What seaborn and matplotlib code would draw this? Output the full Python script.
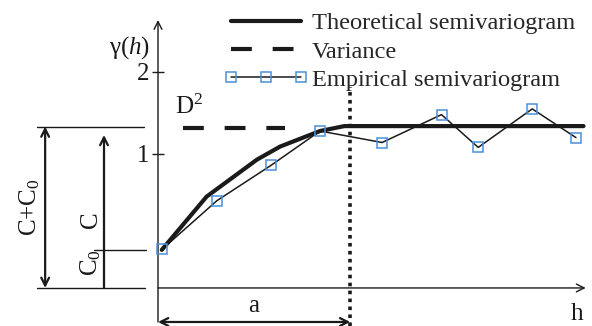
import matplotlib
matplotlib.use("Agg")
import matplotlib.pyplot as plt
import pandas as pd
import seaborn as sns

# Empirical semivariogram: lag h and estimated gamma(h)
lag_emp = [0.08, 1.09, 2.09, 3.00, 4.15, 5.25, 5.93, 6.93, 7.74]
gamma_emp = [-0.16, 0.43, 0.86, 1.28, 1.14, 1.48, 1.08, 1.55, 1.20]

# Fitted (theoretical) model, given by the vertices of its curve
lag_model = [0.07, 0.90, 1.83, 2.26, 3.00, 3.45, 7.88]
gamma_model = [-0.17, 0.48, 0.93, 1.09, 1.28, 1.34, 1.34]

# Structural parameters
nugget = -0.17      # C0 level
sill = 1.335        # C + C0
variance = 1.315    # D^2
range_a = 3.56      # a
base = -0.634       # level of the h axis
y_ticks = [1, 2]

legend_labels = ["Theoretical semivariogram", "Variance", "Empirical semivariogram"]

sns.set_style("white")
plt.rcParams["font.family"] = ["Liberation Serif", "DejaVu Serif"]
plt.rcParams["mathtext.fontset"] = "custom"
plt.rcParams["mathtext.rm"] = "Liberation Serif"
plt.rcParams["mathtext.it"] = "Liberation Serif:italic"

FS = 18
INK = "#1a1a1a"
BLUE = "#4a8fd8"

fig = plt.figure(figsize=(5.92, 3.26), dpi=100)
ax = fig.add_axes([0, 0, 1, 1])

emp = pd.DataFrame({"h": lag_emp, "gamma": gamma_emp})
model = pd.DataFrame({"h": lag_model, "gamma": gamma_model})

# Variance (D^2)
ax.plot([0.46, 2.35], [variance, variance], color=INK, lw=3.0,
        dashes=(5, 5), label=legend_labels[1], zorder=3)

# Empirical and theoretical semivariograms
sns.lineplot(data=emp, x="h", y="gamma", ax=ax, color=INK, lw=1.1,
             marker="s", markersize=7, markerfacecolor="none",
             markeredgecolor=BLUE, markeredgewidth=1.1,
             label=legend_labels[2], zorder=4, sort=False)
sns.lineplot(data=model, x="h", y="gamma", ax=ax, color=INK, lw=3.0,
             label=legend_labels[0], zorder=3, sort=False)

ax.set_xlim(-2.926, 8.037)
ax.set_ylim(-1.098, 2.878)
ax.set_xlabel("")
ax.set_ylabel("")
for s in ["top", "right", "bottom", "left"]:
    ax.spines[s].set_visible(False)
ax.spines["left"].set_position(("data", 0))
ax.set_xticks([])
ax.set_yticks(y_ticks)
ax.set_yticklabels([str(t) for t in y_ticks], fontsize=FS, color=INK)
ax.tick_params(axis="y", left=True, direction="inout", length=9,
               width=1.0, pad=2, colors=INK)
ax.set_facecolor("white")

# Axes with arrow heads
arrow_kw = dict(arrowstyle="->", lw=1.0, color=INK, shrinkA=0, shrinkB=0, mutation_scale=14)
ax.annotate("", xy=(0, 2.634), xytext=(0, -1.049), arrowprops=arrow_kw)
ax.annotate("", xy=(7.92, base), xytext=(0, base), arrowprops=arrow_kw)

# Range a
ax.plot([range_a, range_a], [-1.098, 1.82], color=INK, lw=2.6,
        dashes=(1, 1.2), zorder=2)
ax.annotate("", xy=(range_a, -1.049), xytext=(0, -1.049),
            arrowprops=dict(arrowstyle="<->", lw=1.6, color=INK,
                            shrinkA=0, shrinkB=0, mutation_scale=14))
ax.text(range_a / 2, -0.86, "a", fontsize=FS, ha="center", va="center", color=INK)
ax.text(7.76, -0.95, "h", fontsize=FS, ha="center", va="center", color=INK)

# Nugget / sill construction on the left
line_kw = dict(color=INK, lw=1.0)
ax.plot([-2.24, -0.26], [sill, sill], **line_kw)
ax.plot([-2.24, -0.24], [base, base], **line_kw)
ax.plot([-1.19, -0.22], [nugget, nugget], **line_kw)
ax.annotate("", xy=(-2.09, sill), xytext=(-2.09, base),
            arrowprops=dict(arrowstyle="<->", lw=1.6, color=INK,
                            shrinkA=0, shrinkB=0, mutation_scale=14))
ax.annotate("", xy=(-1.0, 1.232), xytext=(-1.0, base),
            arrowprops=dict(arrowstyle="->", lw=1.6, color=INK,
                            shrinkA=0, shrinkB=0, mutation_scale=14))
ax.text(-2.37, 0.35, "C+C$_0$", fontsize=FS, rotation=90,
        ha="center", va="center", color=INK)
ax.text(-1.24, 0.2, "C", fontsize=FS, rotation=90,
        ha="center", va="center", color=INK)
ax.text(-1.24, -0.33, "C$_0$", fontsize=FS, rotation=90,
        ha="center", va="center", color=INK)

ax.text(-0.52, 2.30, "γ($h$)", fontsize=FS, ha="center", va="center", color=INK)
ax.text(0.57, 1.57, "D$^2$", fontsize=FS, ha="center", va="center", color=INK)

# Legend in the order theoretical, variance, empirical
handles, labels = ax.get_legend_handles_labels()
order = [labels.index(l) for l in legend_labels]
ax.legend([handles[i] for i in order], [labels[i] for i in order],
          loc="upper left", bbox_to_anchor=(224 / 592, 1 - 12 / 326),
          frameon=False, fontsize=17.6, handlelength=3.45, handletextpad=0.15,
          labelspacing=0.26, borderpad=0, borderaxespad=0, numpoints=3)

fig.savefig("out.png", dpi=100, facecolor="white")
